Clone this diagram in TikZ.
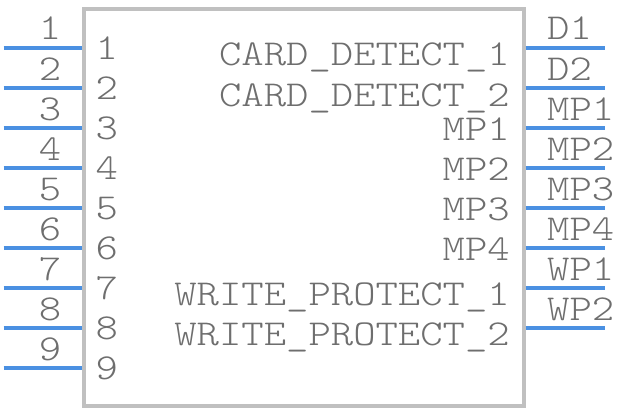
\documentclass[tikz,border=0pt]{standalone}
\usepackage{fontspec}
\setmonofont{Latin Modern Mono Light}[FakeStretch=1.167]
\usepackage{xcolor}
\definecolor{PinBlue}{RGB}{74,144,226}
\definecolor{BodyBorder}{RGB}{192,192,192}
\definecolor{LabelGray}{RGB}{110,110,110}
\usepackage{tikz}
\usetikzlibrary{positioning}
\tikzset{
  % Component body
  body/.style={
    rectangle,
    draw=BodyBorder,
    line width=4pt,
    fill=white,
    minimum width=439.5pt,
    minimum height=397.3pt,
    inner sep=0pt
  },
  % Pin line
  pin line/.style={
    draw=PinBlue,
    line width=3.5pt
  },
  % Pin number / name text
  ptext/.style={
    inner sep=0pt,
    text=LabelGray,
    font=\ttfamily\fontsize{36.5}{40}\selectfont
  },
  outnum/.style={ptext, anchor=base},
  innum/.style={ptext, anchor=base west},
  inname/.style={ptext, anchor=base east},
  outname/.style={ptext, anchor=base west}
}

\begin{document}
\begin{tikzpicture}[x=1pt,y=-1pt]
  \useasboundingbox (0,0) rectangle (626,412);

  \node[body] (ic) at (303.75,207.35) {};

  % left pin ends
  \coordinate (p1) at (3.5,48);
  \coordinate (p2) at (3.5,88);
  \coordinate (p3) at (3.5,128);
  \coordinate (p4) at (3.5,168);
  \coordinate (p5) at (3.5,208);
  \coordinate (p6) at (3.5,248);
  \coordinate (p7) at (3.5,288);
  \coordinate (p8) at (3.5,328);
  \coordinate (p9) at (3.5,368);

  % right pin ends
  \coordinate (d1)  at (605,48);
  \coordinate (d2)  at (605,88);
  \coordinate (mp1) at (605,128);
  \coordinate (mp2) at (605,168);
  \coordinate (mp3) at (605,208);
  \coordinate (mp4) at (605,248);
  \coordinate (wp1) at (605,288);
  \coordinate (wp2) at (605,328);

  \draw[pin line] (p1) -- (p1 -| ic.west);
  \draw[pin line] (p2) -- (p2 -| ic.west);
  \draw[pin line] (p3) -- (p3 -| ic.west);
  \draw[pin line] (p4) -- (p4 -| ic.west);
  \draw[pin line] (p5) -- (p5 -| ic.west);
  \draw[pin line] (p6) -- (p6 -| ic.west);
  \draw[pin line] (p7) -- (p7 -| ic.west);
  \draw[pin line] (p8) -- (p8 -| ic.west);
  \draw[pin line] (p9) -- (p9 -| ic.west);

  \draw[pin line] (d1 -| ic.east) -- (d1);
  \draw[pin line] (d2 -| ic.east) -- (d2);
  \draw[pin line] (mp1 -| ic.east) -- (mp1);
  \draw[pin line] (mp2 -| ic.east) -- (mp2);
  \draw[pin line] (mp3 -| ic.east) -- (mp3);
  \draw[pin line] (mp4 -| ic.east) -- (mp4);
  \draw[pin line] (wp1 -| ic.east) -- (wp1);
  \draw[pin line] (wp2 -| ic.east) -- (wp2);

  % pin numbers outside
  \node[outnum] (o1) at (50,40)  {1};
  \node[outnum] (o2) at (50,80)  {2};
  \node[outnum] (o3) at (50,120) {3};
  \node[outnum] (o4) at (50,160) {4};
  \node[outnum] (o5) at (50,200) {5};
  \node[outnum] (o6) at (50,240) {6};
  \node[outnum] (o7) at (50,280) {7};
  \node[outnum] (o8) at (50,320) {8};
  \node[outnum] (o9) at (50,360) {9};

  % pin numbers inside
  \node[innum] (i1) at (95.5,59.5)  {1};
  \node[innum] (i2) at (95.5,99.5)  {2};
  \node[innum] (i3) at (95.5,139.5) {3};
  \node[innum] (i4) at (95.5,179.5) {4};
  \node[innum] (i5) at (95.5,219.5) {5};
  \node[innum] (i6) at (95.5,259.5) {6};
  \node[innum] (i7) at (95.5,299.5) {7};
  \node[innum] (i8) at (95.5,339.5) {8};
  \node[innum] (i9) at (95.5,379.5) {9};

  % pin names inside
  \node[inname] (cd1) at (510,66)  {CARD\_DETECT\_1};
  \node[inname] (cd2) at (510,106) {CARD\_DETECT\_2};
  \node[inname] (m1)  at (510,140) {MP1};
  \node[inname] (m2)  at (510,180) {MP2};
  \node[inname] (m3)  at (510,220) {MP3};
  \node[inname] (m4)  at (510,260) {MP4};
  \node[inname] (wr1) at (510,305) {WRITE\_PROTECT\_1};
  \node[inname] (wr2) at (510,345) {WRITE\_PROTECT\_2};

  % pin names outside
  \node[outname] (t1) at (547,40)  {D1};
  \node[outname] (t2) at (547,80)  {D2};
  \node[outname] (t3) at (547,120) {MP1};
  \node[outname] (t4) at (547,160) {MP2};
  \node[outname] (t5) at (547,200) {MP3};
  \node[outname] (t6) at (547,240) {MP4};
  \node[outname] (t7) at (547,280) {WP1};
  \node[outname] (t8) at (547,320) {WP2};
\end{tikzpicture}
\end{document}
